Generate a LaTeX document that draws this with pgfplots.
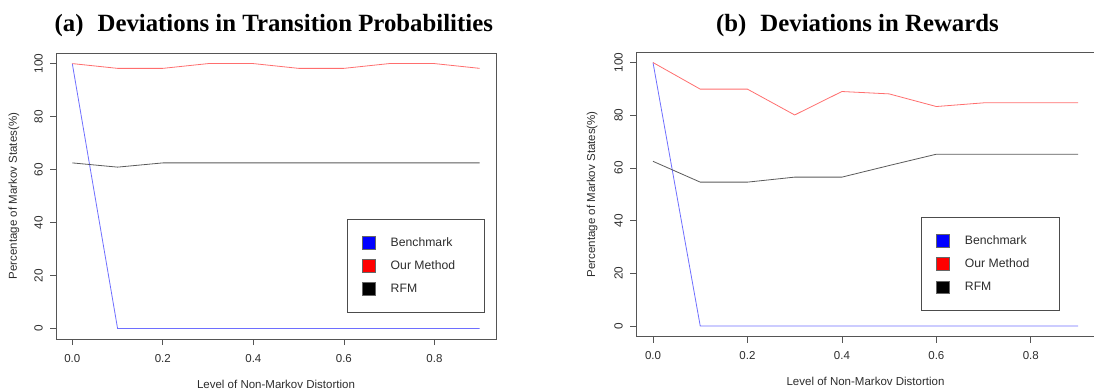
\documentclass[border=0pt]{standalone}
\usepackage{pgfplots}
\pgfplotsset{compat=1.18}
\usepackage{fontspec}
\setmainfont{Liberation Sans}
\newfontfamily\titlefont{Liberation Serif}
\definecolor{axgray}{RGB}{85,85,85}
\definecolor{txtgray}{RGB}{45,45,45}
\definecolor{lblue}{RGB}{110,110,255}
\definecolor{lred}{RGB}{255,110,110}
\definecolor{lgray}{RGB}{90,90,90}
\pgfplotsset{
  rstyle/.style={
    scale only axis, anchor=south west,
    xmin=-0.036, xmax=0.936, ymin=-4, ymax=104,
    xtick={0,0.2,0.4,0.6,0.8}, ytick={0,20,40,60,80,100},
    tick align=outside, tick pos=left, major tick length=6pt,
    axis line style={axgray, line width=0.8pt},
    every tick/.style={axgray, line width=0.8pt},
    /pgf/number format/assume math mode=true,
    xticklabel style={font=\fontsize{11.5}{13}\selectfont, text=txtgray, anchor=north, inner sep=0pt, yshift=-9pt,
      /pgf/number format/.cd, fixed, fixed zerofill, precision=1},
    yticklabel style={font=\fontsize{11.8}{13}\selectfont, text=txtgray, rotate=90, anchor=south, inner sep=0pt, yshift=7pt},
    xlabel={Level of Non-Markov Distortion},
    ylabel={Percentage of Markov States(\%)},
    label style={font=\fontsize{11.5}{13}\selectfont, text=txtgray},
    xlabel style={at={(axis description cs:0.5,-0.158)}, anchor=center},
    ylabel style={at={(axis description cs:-0.0955,0.5)}, anchor=center, rotate=0},
    title style={font=\titlefont\bfseries\fontsize{24.8}{27}\selectfont, anchor=center},
    legend style={draw=black!70, line width=0.6pt, fill=white, anchor=north west,
      inner xsep=15pt, inner ysep=17pt, row sep=10pt, column sep=0pt,
      nodes={inner sep=0pt, text height=8.5pt, text depth=2.5pt, font=\fontsize{12.2}{14}\selectfont, text=txtgray},
      cells={anchor=west}},
  },
  benchimg/.style={legend image code/.code={\draw[fill=blue, draw=black!60] (0pt,-6pt) rectangle (12.5pt,6.5pt); \path (28pt,0pt);}},
  ourimg/.style={legend image code/.code={\draw[fill=red, draw=black!60] (0pt,-6pt) rectangle (12.5pt,6.5pt); \path (28pt,0pt);}},
  rfmimg/.style={legend image code/.code={\draw[fill=black, draw=black!60] (0pt,-6pt) rectangle (12.5pt,6.5pt); \path (28pt,0pt);}},
}
\begin{document}
\begin{tikzpicture}
\useasboundingbox (0pt,0pt) rectangle (1094pt,391pt);
% Panel (a)
\begin{axis}[rstyle, at={(56pt,52pt)}, width=440pt, height=286pt,
  title={(a)\hspace{14pt}Deviations in Transition Probabilities},
  title style={at={(axis description cs:0.495,1.074)}},
  legend style={at={(axis description cs:0.661,0.4196)}}]
\addplot[lblue, line width=0.8pt, forget plot] coordinates {(0,100) (0.1,0) (0.2,0) (0.3,0) (0.4,0) (0.5,0) (0.6,0) (0.7,0) (0.8,0) (0.9,0)};
\addplot[lred, line width=0.8pt, forget plot] coordinates {(0,100) (0.1,98.2) (0.2,98.2) (0.3,100) (0.4,100) (0.5,98.2) (0.6,98.2) (0.7,100) (0.8,100) (0.9,98.2)};
\addplot[lgray, line width=0.8pt, forget plot] coordinates {(0,62.5) (0.1,60.9) (0.2,62.5) (0.3,62.5) (0.4,62.5) (0.5,62.5) (0.6,62.5) (0.7,62.5) (0.8,62.5) (0.9,62.5)};
\addlegendimage{benchimg}
\addlegendentry{\makebox[79pt][l]{Benchmark}}
\addlegendimage{ourimg}
\addlegendentry{\makebox[79pt][l]{Our Method}}
\addlegendimage{rfmimg}
\addlegendentry{\makebox[79pt][l]{RFM}}
\end{axis}
% Panel (b)
\begin{axis}[rstyle, at={(636pt,54.5pt)}, width=459pt, height=284.5pt,
  title={(b)\hspace{14pt}Deviations in Rewards},
  title style={at={(axis description cs:0.4825,1.072)}},
  legend style={at={(axis description cs:0.621,0.42)}}]
\addplot[lblue, line width=0.8pt, forget plot] coordinates {(0,100) (0.1,0) (0.2,0) (0.3,0) (0.4,0) (0.5,0) (0.6,0) (0.7,0) (0.8,0) (0.9,0)};
\addplot[lred, line width=0.8pt, forget plot] coordinates {(0,100) (0.1,89.9) (0.2,89.9) (0.3,80.1) (0.4,89.0) (0.5,88.1) (0.6,83.3) (0.7,84.7) (0.8,84.7) (0.9,84.7)};
\addplot[lgray, line width=0.8pt, forget plot] coordinates {(0,62.5) (0.1,54.6) (0.2,54.6) (0.3,56.5) (0.4,56.5) (0.5,60.9) (0.6,65.2) (0.7,65.2) (0.8,65.2) (0.9,65.2)};
\addlegendimage{benchimg}
\addlegendentry{\makebox[79pt][l]{Benchmark}}
\addlegendimage{ourimg}
\addlegendentry{\makebox[79pt][l]{Our Method}}
\addlegendimage{rfmimg}
\addlegendentry{\makebox[79pt][l]{RFM}}
\end{axis}
\end{tikzpicture}
\end{document}
